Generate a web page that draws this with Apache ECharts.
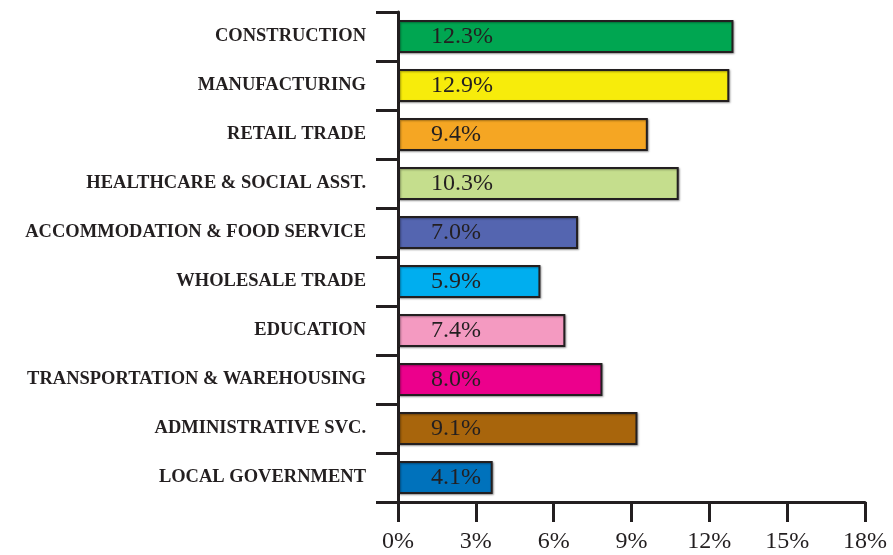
<!DOCTYPE html>
<html>
<head>
<meta charset="utf-8">
<script src="https://cdn.jsdelivr.net/npm/echarts@6/dist/echarts.min.js"></script>
<style>
    html, body { margin: 0; padding: 0; background: #ffffff; }
    #chart { width: 893px; height: 555px; }
</style>
</head>
<body>
<div id="chart"></div>
<script>
    // categories, top to bottom
    var categories = ['CONSTRUCTION', 'MANUFACTURING', 'RETAIL TRADE', 'HEALTHCARE & SOCIAL ASST.',
        'ACCOMMODATION & FOOD SERVICE', 'WHOLESALE TRADE', 'EDUCATION',
        'TRANSPORTATION & WAREHOUSING', 'ADMINISTRATIVE SVC.', 'LOCAL GOVERNMENT'];
    // bar lengths as drawn (%)
    var barValues = [12.93, 12.77, 9.63, 10.82, 6.94, 5.49, 6.45, 7.88, 9.23, 3.65];
    // labels printed inside the bars
    var barLabels = ['12.3%', '12.9%', '9.4%', '10.3%', '7.0%', '5.9%', '7.4%', '8.0%', '9.1%', '4.1%'];
    var barColors = ['#00a651', '#f7ec0b', '#f5a623', '#c5de8d', '#5465b0', '#00aeef',
        '#f49ac1', '#ec008c', '#a8650c', '#0072bc'];
    var xMin = 0, xMax = 18, xStep = 3;

    var ink = '#231f20';
    var serif = '"Liberation Serif", "DejaVu Serif", serif';

    var chart = echarts.init(document.getElementById('chart'));

    chart.setOption({
        animation: false,
        grid: { left: 398, right: 28, top: 12, bottom: 53, containLabel: false },
        xAxis: {
            type: 'value',
            min: xMin,
            max: xMax,
            interval: xStep,
            axisLine: { show: true, lineStyle: { color: ink, width: 3 } },
            axisTick: { show: true, length: 20, lineStyle: { color: ink, width: 3 } },
            axisLabel: {
                formatter: '{value}%',
                color: ink,
                fontFamily: serif,
                fontSize: 24,
                margin: 28
            },
            splitLine: { show: false }
        },
        yAxis: {
            type: 'category',
            inverse: true,
            data: categories,
            axisLine: { show: true, lineStyle: { color: ink, width: 3 } },
            axisTick: { show: true, length: 22, lineStyle: { color: ink, width: 3 } },
            axisLabel: {
                color: ink,
                fontFamily: serif,
                fontWeight: 'bold',
                fontSize: 18.5,
                margin: 32
            }
        },
        series: [{
            type: 'bar',
            barWidth: 33,
            data: barValues.map(function (v, i) {
                return { value: v, itemStyle: { color: barColors[i] } };
            }),
            itemStyle: {
                borderColor: ink,
                borderWidth: 2,
                shadowColor: 'rgba(0,0,0,0.35)',
                shadowBlur: 2,
                shadowOffsetX: 1,
                shadowOffsetY: 1
            },
            label: {
                show: true,
                position: 'insideLeft',
                distance: 33,
                color: ink,
                fontFamily: serif,
                fontSize: 24,
                formatter: function (p) { return barLabels[p.dataIndex]; }
            }
        }]
    });
</script>
</body>
</html>
